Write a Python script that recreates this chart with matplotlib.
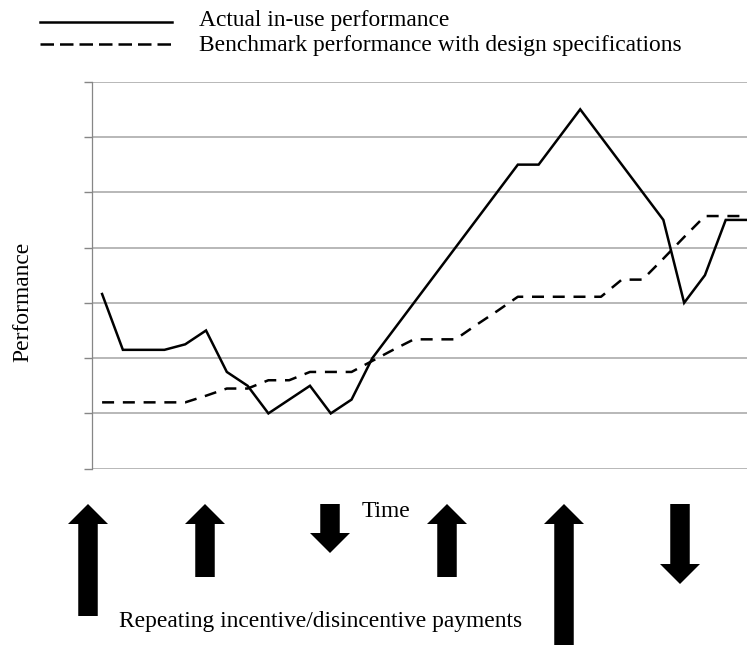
import matplotlib
matplotlib.use("Agg")
import matplotlib.pyplot as plt
from matplotlib.patches import FancyArrow
from matplotlib.lines import Line2D

plt.rcParams['font.family'] = ['Liberation Serif', 'DejaVu Serif']

# --- Data ---
actual = [3.16, 2.15, 2.15, 2.15, 2.25, 2.5, 1.75, 1.5, 1.0, 1.25, 1.5, 1.0, 1.25, 2.0,
          2.5, 3.0, 3.5, 4.0, 4.5, 5.0, 5.5, 5.5, 6.0, 6.5, 6.0, 5.5, 5.0, 4.5, 3.0,
          3.5, 4.5, 4.5]
benchmark = [1.2, 1.2, 1.2, 1.2, 1.2, 1.32, 1.45, 1.45, 1.6, 1.6, 1.75, 1.75, 1.75, 1.95,
             2.15, 2.34, 2.34, 2.34, 2.6, 2.85, 3.11, 3.11, 3.11, 3.11, 3.11, 3.42, 3.42,
             3.8, 4.19, 4.57, 4.57, 4.57]
periods = list(range(len(actual)))
y_ticks = [0, 1, 2, 3, 4, 5, 6, 7]

# payments: + incentive (up arrow), - disincentive (down arrow)
payments = [112, 73, -49, 73, 150, -80]
payment_x = [88, 205, 330, 447, 564, 680]

labels = ['Actual in-use performance', 'Benchmark performance with design specifications']

# --- Figure ---
W, H = 747, 645
fig = plt.figure(figsize=(W / 100, H / 100), dpi=100, facecolor='white')

grid_col = '#a4a4a4'
axis_col = '#868686'
fs = 16.9
lw = 1.8
dash = (0, (4.8, 3.5))

# main plot area (extends slightly past the right edge, as in the reference)
left, right = 91.7, 756.9
top, bottom = 81.7, 468.7
ax = fig.add_axes([left / W, 1 - bottom / H, (right - left) / W, (bottom - top) / H])
ax.plot(periods, actual, color='black', lw=lw, solid_joinstyle='miter')
ax.plot(periods, benchmark, color='black', lw=lw, linestyle=dash)
ax.set_xlim(-0.5, len(actual) - 0.5)
ax.set_ylim(y_ticks[0], y_ticks[-1])
ax.set_yticks(y_ticks)
ax.set_yticklabels([])
ax.set_xticks([])
ax.yaxis.grid(True, color=grid_col, lw=1.1)
ax.set_axisbelow(True)
ax.tick_params(axis='y', length=5.5, width=1.0, color=axis_col, direction='out')
for s in ['top', 'right', 'bottom']:
    ax.spines[s].set_visible(False)
ax.spines['left'].set_color(axis_col)
ax.spines['left'].set_linewidth(0.9)

# overlay in pixel coordinates for legend, labels and arrows
ov = fig.add_axes([0, 0, 1, 1])
ov.set_xlim(0, W)
ov.set_ylim(H, 0)
ov.axis('off')

# legend
ov.add_line(Line2D([40, 172], [21.7, 21.7], color='black', lw=lw))
ov.add_line(Line2D([40, 172], [43.5, 43.5], color='black', lw=lw, linestyle=(0, (5.4, 2.4))))
ov.text(199, 26, labels[0], fontsize=fs, va='baseline', ha='left')
ov.text(199, 50.5, labels[1], fontsize=fs, va='baseline', ha='left')

# axis labels
ov.text(28, 302, 'Performance', fontsize=fs, rotation=90, rotation_mode='anchor',
        ha='center', va='baseline')
ov.text(361.7, 517.3, 'Time', fontsize=fs, va='baseline', ha='left')
ov.text(119, 626.7, 'Repeating incentive/disincentive payments', fontsize=fs,
        va='baseline', ha='left')

# payment arrows
arrow_top = 504
for x, p in zip(payment_x, payments):
    if p > 0:
        y0, dy = arrow_top + p, -p
    else:
        y0, dy = arrow_top, -p
    ov.add_patch(FancyArrow(x, y0, 0, dy, width=19.5, head_width=40, head_length=20,
                            length_includes_head=True, color='black', lw=0))

fig.savefig('out.png', dpi=100, facecolor='white')
